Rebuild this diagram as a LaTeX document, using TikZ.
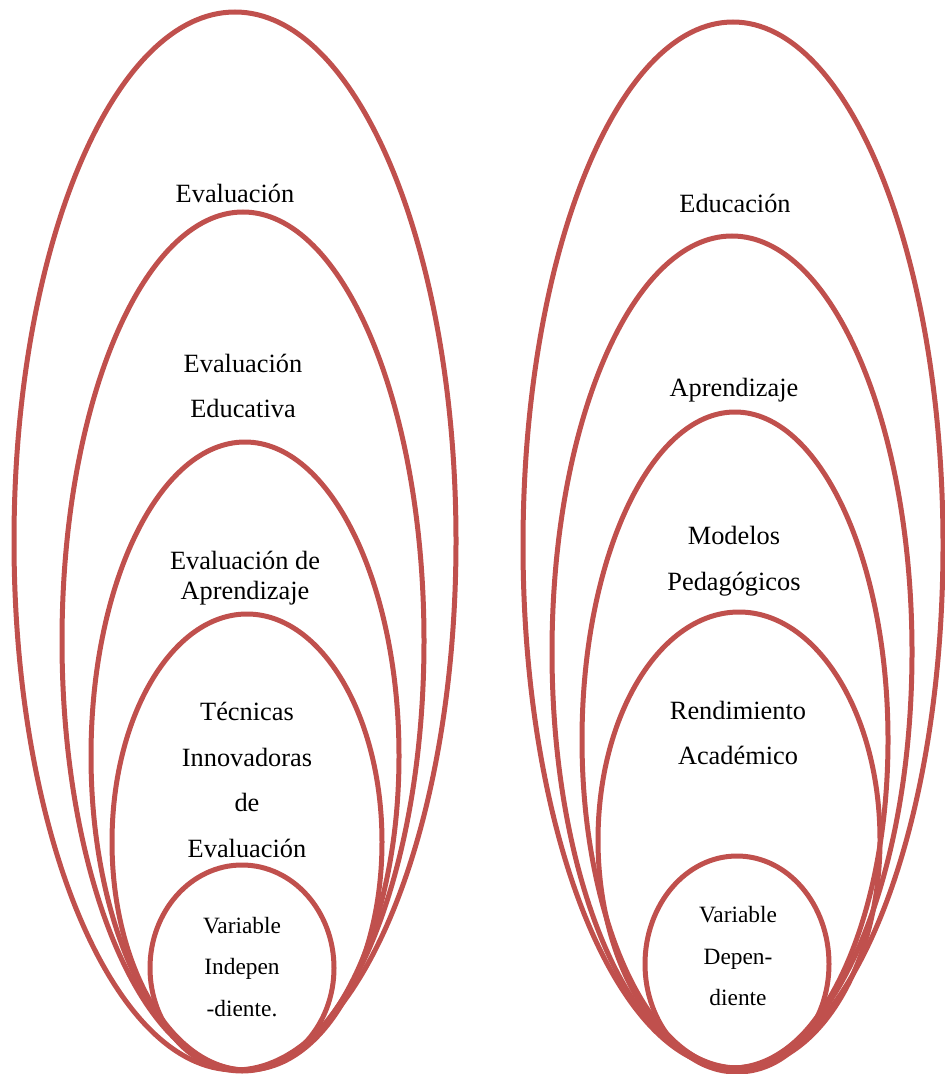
\documentclass[tikz,border=0pt]{standalone}
\usepackage{fontspec}
\setmainfont{Liberation Serif}
\definecolor{ringRed}{RGB}{192,80,77}

\begin{document}
\begin{tikzpicture}[x=0.02cm, y=-0.02cm]
	\tikzstyle{ringStyle}=[draw=ringRed, line width=0.1cm]
	\tikzstyle{labelStyle}=[align=center, inner sep=0pt, font=\fontsize{15}{26}\selectfont]
	\tikzstyle{tightStyle}=[labelStyle, font=\fontsize{15}{17}\selectfont]
	\tikzstyle{smallStyle}=[align=center, inner sep=0pt, font=\fontsize{13.3}{23.8}\selectfont]
	\useasboundingbox (0,0) rectangle (945,1074);
	% left group
	\draw[ringStyle] (235,541) ellipse [x radius=221, y radius=529];
	\draw[ringStyle] (243,641) ellipse [x radius=181, y radius=429];
	\draw[ringStyle] (245,756) ellipse [x radius=154, y radius=314];
	\draw[ringStyle] (247,842) ellipse [x radius=135, y radius=228];
	\draw[ringStyle] (242,968) ellipse [x radius=92, y radius=103];
	\node[labelStyle] (l0) at (235,193) {Evaluación};
	\node[labelStyle] (l1) at (243,386) {Evaluación\\Educativa};
	\node[tightStyle] (l2) at (245,578) {Evaluación de\\Aprendizaje};
	\node[labelStyle] (l3) at (247,780) {Técnicas\\Innovadoras\\de\\Evaluación};
	\node[smallStyle] (l4) at (242,967) {Variable\\Indepen\\-diente.};
	% right group
	\draw[ringStyle] (733,545) ellipse [x radius=210, y radius=523];
	\draw[ringStyle] (732,652) ellipse [x radius=180, y radius=416];
	\draw[ringStyle] (735,740) ellipse [x radius=153, y radius=328];
	\draw[ringStyle] (739,840) ellipse [x radius=141, y radius=228];
	\draw[ringStyle] (737,964) ellipse [x radius=92, y radius=108];
	\node[labelStyle] (r0) at (735,203) {Educación};
	\node[labelStyle] (r1) at (734,390) {Aprendizaje};
	\node[labelStyle] (r2) at (734,561) {Modelos\\Pedagógicos};
	\node[labelStyle] (r3) at (738,733) {Rendimiento\\Académico};
	\node[smallStyle] (r4) at (738,956) {Variable\\Depen-\\diente};
\end{tikzpicture}
\end{document}
